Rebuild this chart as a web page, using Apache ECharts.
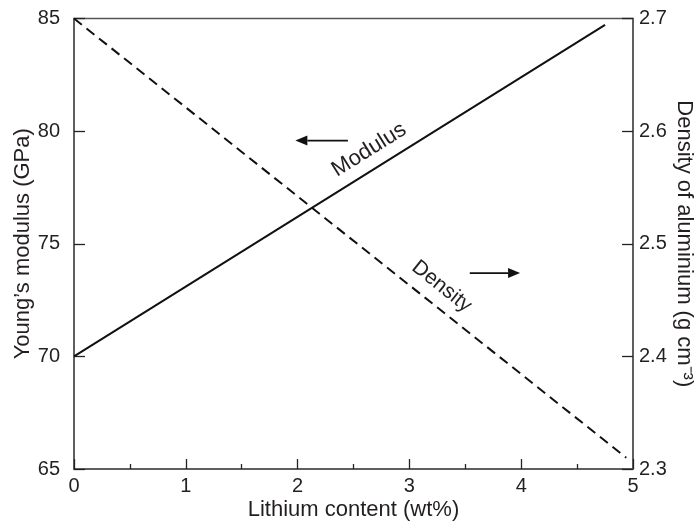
<!DOCTYPE html>
<html><head><meta charset="utf-8">
<script src="https://cdn.jsdelivr.net/npm/echarts@6/dist/echarts.min.js"></script>
<style>html,body{margin:0;padding:0;background:#fff}#c{width:694px;height:522px}</style>
</head><body><div id="c"></div>
<script>
// Data
const lithium = [0, 4.75];           // wt%
const modulus = [70, 84.72];         // GPa
const lithiumD = [0, 4.94];          // wt%
const density = [2.7, 2.31];         // g cm^-3
const xTicks = [0, 1, 2, 3, 4, 5];
const leftTicks = [65, 70, 75, 80, 85];
const rightTicks = [2.3, 2.4, 2.5, 2.6, 2.7];

const txt = '#231f20';
const axisCol = '#555555';
const font = 'Liberation Sans, Arial, sans-serif';

const chart = echarts.init(document.getElementById('c'), null, {renderer: 'canvas'});
const opt = {
  animation: false,
  grid: {left: 74, right: 61, top: 18.5, bottom: 53, containLabel: false, outerBoundsMode: 'none',
         show: true, borderColor: axisCol, borderWidth: 1.5, backgroundColor: 'transparent'},
  xAxis: {
    type: 'value', min: xTicks[0], max: xTicks[xTicks.length - 1], interval: 1,
    name: 'Lithium content (wt%)', nameLocation: 'middle', nameGap: 30, nameMoveOverlap: false,
    nameTextStyle: {color: txt, fontSize: 22, fontFamily: font},
    axisLine: {show: true, lineStyle: {color: axisCol, width: 1.5}},
    axisTick: {show: true, inside: true, length: 10, lineStyle: {color: '#222', width: 1.3}},
    minorTick: {show: true, splitNumber: 2, length: 5, lineStyle: {color: '#222', width: 1.3}},
    axisLabel: {color: txt, fontSize: 20, fontFamily: font, margin: 7},
    splitLine: {show: false}
  },
  yAxis: [{
    type: 'value', min: leftTicks[0], max: leftTicks[leftTicks.length - 1], interval: 5,
    name: 'Young\u2019s modulus (GPa)', nameLocation: 'middle', nameGap: 40, nameMoveOverlap: false,
    nameTextStyle: {color: txt, fontSize: 22, fontFamily: font},
    axisLine: {show: true, lineStyle: {color: axisCol, width: 1.5}},
    axisTick: {show: true, inside: true, length: 11, lineStyle: {color: '#222', width: 1.3}},
    axisLabel: {color: txt, fontSize: 20, fontFamily: font, margin: 14},
    splitLine: {show: false}
  }, {
    type: 'value', position: 'right', min: rightTicks[0], max: rightTicks[rightTicks.length - 1], interval: 0.1,
    name: 'Density of aluminium (g cm\u207B\u00B3)', nameLocation: 'middle', nameGap: 40, nameRotate: -90, nameMoveOverlap: false,
    nameTextStyle: {color: txt, fontSize: 22, fontFamily: font},
    axisLine: {show: true, lineStyle: {color: axisCol, width: 1.5}},
    axisTick: {show: true, inside: true, length: 11, lineStyle: {color: '#222', width: 1.3}},
    axisLabel: {color: txt, fontSize: 20, fontFamily: font, margin: 6, formatter: v => v.toFixed(1)},
    splitLine: {show: false}
  }],
  series: [{
    type: 'line', yAxisIndex: 0, symbol: 'none',
    data: lithium.map((x, i) => [x, modulus[i]]),
    lineStyle: {color: '#111', width: 2}
  }, {
    type: 'line', yAxisIndex: 1, symbol: 'none',
    data: lithiumD.map((x, i) => [x, density[i]]),
    lineStyle: {color: '#111', width: 2, type: [10, 6]}
  }]
};
chart.setOption(opt);

// Annotation anchors in data space
const modLabel = [2.64, 79.17], modArrow = [[2.45, 79.58], [1.98, 79.58]];
const denLabel = [3.29, 2.462], denArrow = [[3.54, 2.474], [3.99, 2.474]];
const pL = (p) => chart.convertToPixel({xAxisIndex: 0, yAxisIndex: 0}, p);
const pR = (p) => chart.convertToPixel({xAxisIndex: 0, yAxisIndex: 1}, p);

function arrow(a, b) {
  const dx = b[0] - a[0], dy = b[1] - a[1];
  const L = Math.hypot(dx, dy), ux = dx / L, uy = dy / L;
  const hl = 12, hw = 5;
  const base = [b[0] - ux * hl, b[1] - uy * hl];
  return [
    {type: 'line', shape: {x1: a[0], y1: a[1], x2: base[0], y2: base[1]}, style: {stroke: '#111', lineWidth: 1.8}},
    {type: 'polygon', shape: {points: [b, [base[0] - uy * hw, base[1] + ux * hw], [base[0] + uy * hw, base[1] - ux * hw]]}, style: {fill: '#111'}}
  ];
}
const m = pL(modLabel), d = pR(denLabel);
chart.setOption({graphic: [
  {type: 'text', x: m[0], y: m[1], rotation: 32 * Math.PI / 180,
   style: {text: 'Modulus', fill: txt, font: '22px ' + font, align: 'center', verticalAlign: 'middle'}},
  {type: 'text', x: d[0], y: d[1], rotation: -38.6 * Math.PI / 180,
   style: {text: 'Density', fill: txt, font: '21px ' + font, align: 'center', verticalAlign: 'middle'}},
  ...arrow(pL(modArrow[0]), pL(modArrow[1])),
  ...arrow(pR(denArrow[0]), pR(denArrow[1]))
]});
</script></body></html>
